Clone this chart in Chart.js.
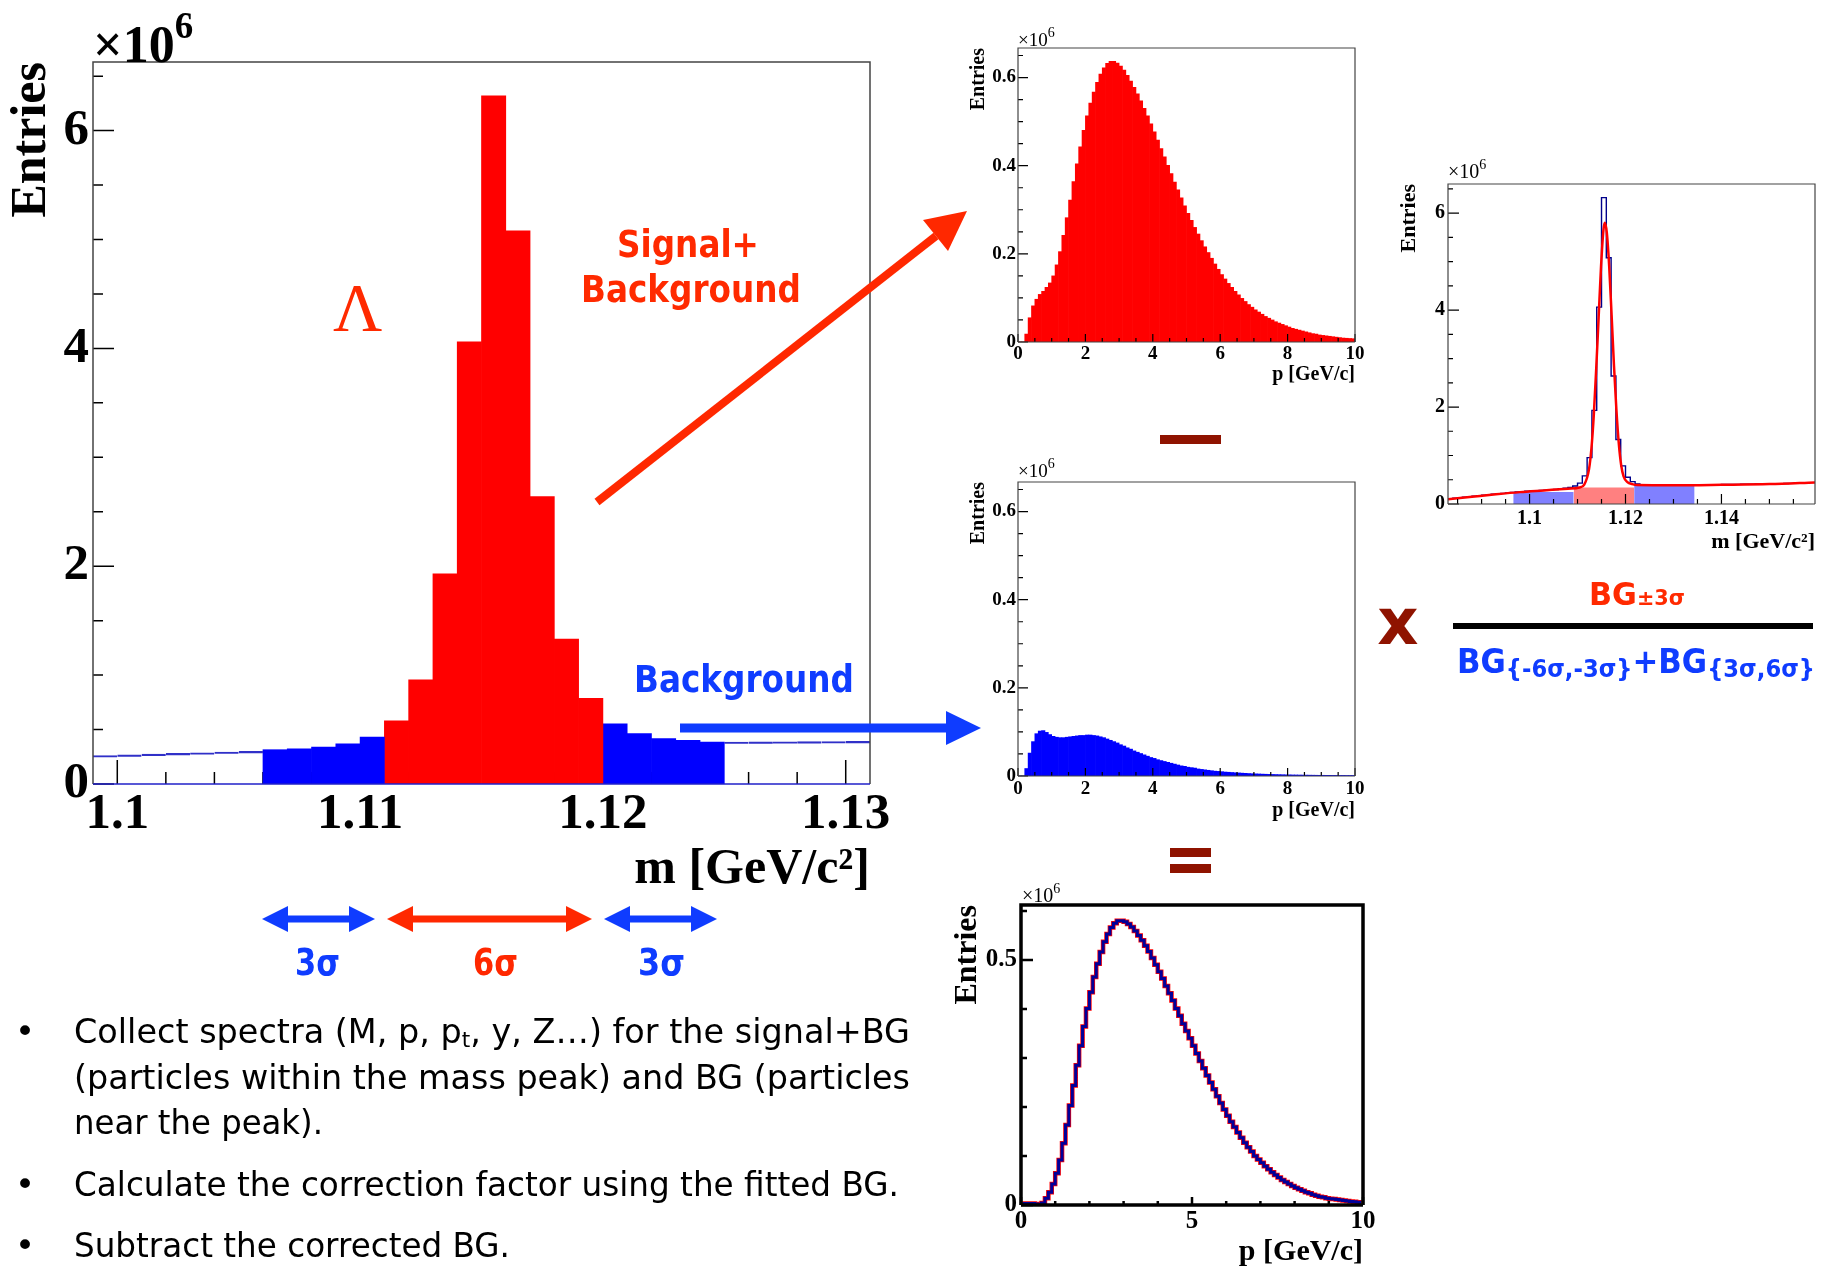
<!DOCTYPE html>
<html>
<head>
<meta charset="utf-8">
<script src="https://cdn.jsdelivr.net/npm/chart.js@4.4.1/dist/chart.umd.min.js"></script>
<style>
html, body { margin: 0; padding: 0; background: #fff; width: 1823px; height: 1270px; overflow: hidden; }
.box { position: absolute; }
#deco { position: absolute; left: 0; top: 0; pointer-events: none; }
</style>
</head>
<body>
<div class="box" style="left:0px;top:0px;width:930px;height:920px"><canvas id="massChart"></canvas></div>
<div class="box" style="left:965px;top:40px;width:410px;height:352px"><canvas id="sbChart"></canvas></div>
<div class="box" style="left:965px;top:474px;width:410px;height:354px"><canvas id="bgChart"></canvas></div>
<div class="box" style="left:1396px;top:176px;width:424px;height:384px"><canvas id="fitChart"></canvas></div>
<div class="box" style="left:949px;top:897px;width:441px;height:373px"><canvas id="resChart"></canvas></div>

<svg id="deco" width="1823" height="1270" xmlns="http://www.w3.org/2000/svg">
  <g font-family="'Liberation Serif', serif">
    <text x="93" y="62" font-size="52" font-weight="bold">×10<tspan font-size="37" dy="-24">6</tspan></text>
    <text x="1018" y="46" font-size="19">×10<tspan font-size="14" dy="-9">6</tspan></text>
    <text x="1018" y="477" font-size="19">×10<tspan font-size="14" dy="-9">6</tspan></text>
    <text x="1448" y="178" font-size="20">×10<tspan font-size="14" dy="-9">6</tspan></text>
    <text x="1022" y="902" font-size="20">×10<tspan font-size="14" dy="-9">6</tspan></text>
    <text x="333" y="330" font-size="68" fill="#ff2a00">Λ</text>
  </g>

  <g font-family="'DejaVu Sans', sans-serif" font-weight="bold">
    <text x="617" y="257" font-size="37" fill="#ff2a00" textLength="142" lengthAdjust="spacingAndGlyphs">Signal+</text>
    <text x="581" y="302" font-size="37" fill="#ff2a00" textLength="220" lengthAdjust="spacingAndGlyphs">Background</text>
    <text x="634" y="692" font-size="37" fill="#0f3cff" textLength="220" lengthAdjust="spacingAndGlyphs">Background</text>
    <text x="295" y="975" font-size="38" fill="#0f3cff" textLength="45" lengthAdjust="spacingAndGlyphs">3σ</text>
    <text x="473" y="975" font-size="38" fill="#ff2800" textLength="45" lengthAdjust="spacingAndGlyphs">6σ</text>
    <text x="638" y="975" font-size="38" fill="#0f3cff" textLength="47" lengthAdjust="spacingAndGlyphs">3σ</text>
    <text x="1398" y="644" font-size="64" fill="#8f1300" text-anchor="middle">x</text>
    <text x="1589" y="605" font-size="32" fill="#ff2a00" textLength="96" lengthAdjust="spacingAndGlyphs">BG<tspan font-size="22">±3σ</tspan></text>
    <text x="1457" y="673" font-size="34" fill="#0f3cff" textLength="358" lengthAdjust="spacingAndGlyphs">BG<tspan font-size="25" dy="4">{-6σ,-3σ}</tspan><tspan dy="-4">+BG</tspan><tspan font-size="25" dy="4">{3σ,6σ}</tspan></text>
  </g>

  <g font-family="'DejaVu Sans', sans-serif" font-size="34" fill="#000">
    <text x="15" y="1043">•</text>
    <text x="15" y="1196">•</text>
    <text x="15" y="1257">•</text>
    <text x="74" y="1043" textLength="836" lengthAdjust="spacingAndGlyphs">Collect spectra (M, p, p<tspan font-size="22" dy="4">t</tspan><tspan dy="-4">, y, Z…) for the signal+BG</tspan></text>
    <text x="74" y="1089" textLength="836" lengthAdjust="spacingAndGlyphs">(particles within the mass peak) and BG (particles</text>
    <text x="74" y="1134" textLength="249" lengthAdjust="spacingAndGlyphs">near the peak).</text>
    <text x="74" y="1196" textLength="825" lengthAdjust="spacingAndGlyphs">Calculate the correction factor using the fitted BG.</text>
    <text x="74" y="1257" textLength="436" lengthAdjust="spacingAndGlyphs">Subtract the corrected BG.</text>
  </g>

  <!-- arrows and operators -->
  <line x1="597" y1="502" x2="936" y2="236" stroke="#ff2800" stroke-width="8"/>
  <polygon points="967,211 948,251 923,220" fill="#ff2800"/>
  <rect x="680" y="723.5" width="268" height="9" fill="#0f3cff"/>
  <polygon points="981,728 946,711 946,745" fill="#0f3cff"/>

  <rect x="285" y="915.5" width="67" height="7" fill="#0f3cff"/>
  <polygon points="262,919 288,906 288,932" fill="#0f3cff"/>
  <polygon points="375,919 349,906 349,932" fill="#0f3cff"/>
  <rect x="410" y="915.5" width="159" height="7" fill="#ff2800"/>
  <polygon points="387,919 413,906 413,932" fill="#ff2800"/>
  <polygon points="592,919 566,906 566,932" fill="#ff2800"/>
  <rect x="627" y="915.5" width="67" height="7" fill="#0f3cff"/>
  <polygon points="604,919 630,906 630,932" fill="#0f3cff"/>
  <polygon points="717,919 691,906 691,932" fill="#0f3cff"/>

  <rect x="1160" y="435" width="61" height="9" fill="#8f1300"/>
  <rect x="1170" y="848" width="41" height="9" fill="#8f1300"/>
  <rect x="1170" y="864" width="41" height="9" fill="#8f1300"/>
  <rect x="1453" y="623" width="360" height="6" fill="#000"/>
</svg>

<script>
// Invariant mass histogram, 1 MeV bins, entries in units of 10^6
const MASS_BIN_START = 1.099;
const MASS_BIN_WIDTH = 0.001;
const massSideLeft = [0.262, 0.268, 0.274, 0.281, 0.287, 0.294, 0.30];   // 1.099 - 1.106
const massBgLeft = [0.315, 0.324, 0.34, 0.37, 0.43];                     // 1.106 - 1.111
const massSignal = [0.58, 0.957, 1.93, 4.06, 6.32, 5.08, 2.64, 1.33, 0.786]; // 1.111 - 1.120
const massBgRight = [0.553, 0.462, 0.416, 0.40, 0.385];                  // 1.120 - 1.125
const massSideRight = [0.386, 0.387, 0.388, 0.389, 0.39, 0.391];         // 1.125 - 1.131

// Extra mass bins only shown in the fit panel
const FIT_BIN_START = 1.083;
const fitSideLeft = [0.11, 0.12, 0.13, 0.14, 0.15, 0.16, 0.17, 0.18, 0.19, 0.2, 0.21, 0.22, 0.23, 0.24, 0.25, 0.255];
const fitSideRight = [0.392, 0.393, 0.394, 0.395, 0.396, 0.397, 0.398, 0.399, 0.4, 0.401, 0.402, 0.403, 0.405, 0.406,
  0.408, 0.41, 0.411, 0.413, 0.415, 0.417, 0.419, 0.421, 0.423, 0.426, 0.428, 0.431, 0.434, 0.437];

// Fitted function (peak + background)
const fitCurveMass = [1.083, 1.088, 1.093, 1.098, 1.103, 1.108, 1.1104, 1.1114, 1.1124, 1.1129, 1.1134, 1.1139, 1.1144,
  1.1149, 1.1154, 1.1157, 1.1161, 1.1166, 1.1171, 1.1176, 1.1181, 1.1186, 1.1191, 1.1196, 1.1204, 1.1214, 1.1225,
  1.13, 1.14, 1.15, 1.1595];
const fitCurveEntries = [0.10, 0.15, 0.20, 0.245, 0.28, 0.315, 0.34, 0.40, 0.72, 1.15, 1.85, 2.8, 3.85, 4.9, 5.65, 5.8,
  5.6, 4.9, 3.9, 2.85, 1.95, 1.25, 0.8, 0.57, 0.45, 0.41, 0.39, 0.385, 0.395, 0.41, 0.445];

// Fitted-background windows (-6s..-3s, -3s..+3s, +3s..+6s)
const windowEdges = [1.0966, 1.1092, 1.1218, 1.1344];
const windowLevels = [0.25, 0.34, 0.40];

// Momentum spectra, 0.1 GeV/c bins, entries in units of 10^6
const P_BIN_START = 0;
const P_BIN_WIDTH = 0.1;
const sbCounts = [
  0, 0, 0.018, 0.055, 0.082, 0.097, 0.108, 0.115, 0.124, 0.134,
  0.15, 0.175, 0.205, 0.242, 0.282, 0.322, 0.364, 0.404, 0.443, 0.48,
  0.513, 0.542, 0.567, 0.589, 0.608, 0.622, 0.632, 0.637, 0.637, 0.633,
  0.626, 0.617, 0.605, 0.592, 0.578, 0.563, 0.547, 0.53, 0.513, 0.495,
  0.477, 0.458, 0.439, 0.42, 0.401, 0.382, 0.363, 0.345, 0.327, 0.309,
  0.292, 0.276, 0.26, 0.245, 0.23, 0.216, 0.203, 0.19, 0.177, 0.165,
  0.153, 0.143, 0.133, 0.124, 0.115, 0.107, 0.099, 0.092, 0.085, 0.079,
  0.073, 0.068, 0.063, 0.058, 0.054, 0.05, 0.046, 0.043, 0.04, 0.037,
  0.034, 0.031, 0.029, 0.027, 0.025, 0.023, 0.021, 0.019, 0.018, 0.016,
  0.015, 0.014, 0.013, 0.012, 0.011, 0.01, 0.009, 0.0085, 0.008, 0.0075
];
const bgCounts = [
  0, 0, 0.017, 0.052, 0.078, 0.096, 0.102, 0.103, 0.099, 0.094,
  0.09, 0.088, 0.087, 0.087, 0.088, 0.089, 0.09, 0.091, 0.092, 0.092,
  0.093, 0.093, 0.092, 0.091, 0.089, 0.087, 0.084, 0.081, 0.078, 0.075,
  0.071, 0.068, 0.064, 0.061, 0.057, 0.054, 0.051, 0.048, 0.045, 0.042,
  0.04, 0.037, 0.035, 0.033, 0.031, 0.029, 0.027, 0.025, 0.023, 0.022,
  0.02, 0.019, 0.018, 0.016, 0.015, 0.014, 0.013, 0.012, 0.011, 0.0105,
  0.0098, 0.009, 0.0085, 0.008, 0.0074, 0.007, 0.0065, 0.006, 0.0056, 0.0052,
  0.0049, 0.0046, 0.0043, 0.004, 0.0037, 0.0035, 0.0033, 0.0031, 0.0029, 0.0027,
  0.0026, 0.0024, 0.0023, 0.0022, 0.0021, 0.002, 0.0019, 0.0018, 0.0017, 0.0016,
  0.0016, 0.0015, 0.0015, 0.0014, 0.0014, 0.0013, 0.0013, 0.0012, 0.0012, 0.0012
];
// Background-subtracted spectrum (red and dark blue lines overlap)
const signalCounts = [
  0.002, 0.003, 0.003, 0.003, 0.002, 0.001, 0.004, 0.014, 0.026, 0.043,
  0.065, 0.092, 0.126, 0.163, 0.203, 0.244, 0.285, 0.325, 0.364, 0.401,
  0.434, 0.465, 0.492, 0.516, 0.537, 0.553, 0.566, 0.575, 0.58, 0.58,
  0.578, 0.573, 0.567, 0.559, 0.55, 0.54, 0.529, 0.517, 0.504, 0.49,
  0.476, 0.462, 0.447, 0.432, 0.417, 0.401, 0.386, 0.37, 0.355, 0.34,
  0.325, 0.309, 0.294, 0.279, 0.264, 0.25, 0.236, 0.222, 0.208, 0.195,
  0.182, 0.17, 0.159, 0.148, 0.137, 0.127, 0.118, 0.109, 0.1, 0.093,
  0.086, 0.079, 0.073, 0.067, 0.061, 0.056, 0.051, 0.047, 0.043, 0.039,
  0.035, 0.032, 0.029, 0.026, 0.024, 0.021, 0.019, 0.017, 0.016, 0.014,
  0.013, 0.012, 0.011, 0.01, 0.009, 0.008, 0.0072, 0.0065, 0.0058, 0.0052
];

const SERIF = "'Liberation Serif', 'Times New Roman', serif";
const RED = '#ff0000';
const BLUE = '#0000ff';

Chart.defaults.animation = false;
Chart.defaults.color = '#000';

function binPoints(values, start, width) {
  return values.map((v, i) => ({ x: start + (i + 0.5) * width, y: v }));
}

// ROOT-like frame with inward ticks
function rootAxes(cfg) {
  function drawTicks(chart) {
    const { ctx, chartArea: a, scales: { x, y } } = chart;
    ctx.save();
    ctx.strokeStyle = '#000';
    ctx.lineWidth = cfg.tickWidth;
    ctx.beginPath();
    x.ticks.forEach(t => {
      const px = x.getPixelForValue(t.value);
      ctx.moveTo(px, a.bottom); ctx.lineTo(px, a.bottom - cfg.xMajor);
    });
    for (let k = Math.ceil(x.min / cfg.xMinorStep - 1e-6); k * cfg.xMinorStep <= x.max + 1e-9; k++) {
      const px = x.getPixelForValue(k * cfg.xMinorStep);
      ctx.moveTo(px, a.bottom); ctx.lineTo(px, a.bottom - cfg.xMinor);
    }
    y.ticks.forEach(t => {
      const py = y.getPixelForValue(t.value);
      ctx.moveTo(a.left, py); ctx.lineTo(a.left + cfg.yMajor, py);
    });
    for (let k = Math.ceil(y.min / cfg.yMinorStep - 1e-6); k * cfg.yMinorStep <= y.max + 1e-9; k++) {
      const py = y.getPixelForValue(k * cfg.yMinorStep);
      ctx.moveTo(a.left, py); ctx.lineTo(a.left + cfg.yMinor, py);
    }
    ctx.stroke();
    ctx.restore();
  }
  function drawFrame(chart) {
    const { ctx, chartArea: a } = chart;
    ctx.save();
    ctx.lineWidth = cfg.frameWidth;
    ctx.strokeStyle = cfg.frameColor;
    ctx.beginPath();
    ctx.moveTo(a.left, a.bottom); ctx.lineTo(a.left, a.top);
    ctx.lineTo(a.right, a.top); ctx.lineTo(a.right, a.bottom);
    ctx.stroke();
    ctx.strokeStyle = cfg.bottomColor || cfg.frameColor;
    ctx.beginPath();
    ctx.moveTo(a.left, a.bottom); ctx.lineTo(a.right, a.bottom);
    ctx.stroke();
    ctx.restore();
  }
  return {
    id: 'rootAxes',
    beforeDatasetsDraw(chart) { if (!cfg.ticksOnTop) drawTicks(chart); },
    afterDatasetsDraw(chart) { if (cfg.ticksOnTop) drawTicks(chart); drawFrame(chart); }
  };
}

function rootScales(o) {
  const fmt = v => String(+Number(v).toFixed(4));
  return {
    x: {
      type: 'linear', min: o.xMin, max: o.xMax, offset: false,
      grid: { display: false, drawTicks: false }, border: { display: false },
      ticks: {
        stepSize: o.xStep, autoSkip: false, maxRotation: 0, includeBounds: false,
        padding: o.xPad, callback: fmt,
        font: { family: SERIF, weight: 'bold', size: o.tickSize }
      },
      title: {
        display: true, text: o.xTitle, align: 'end',
        font: { family: SERIF, weight: 'bold', size: o.xTitleSize },
        padding: { top: 0, bottom: o.xTitlePad }
      },
      afterFit: s => { s.height = o.xh; s.paddingLeft = 0; s.paddingRight = 0; }
    },
    y: {
      type: 'linear', min: 0, max: o.yMax,
      grid: { display: false, drawTicks: false }, border: { display: false },
      ticks: {
        stepSize: o.yStep, autoSkip: false, includeBounds: false,
        padding: o.yPad, callback: fmt,
        font: { family: SERIF, weight: 'bold', size: o.yTickSize || o.tickSize }
      },
      title: {
        display: true, text: 'Entries', align: 'end',
        font: { family: SERIF, weight: 'bold', size: o.yTitleSize },
        padding: { top: o.yTitlePad, bottom: 0 }
      },
      afterFit: s => { s.width = o.yw; s.paddingTop = 0; s.paddingBottom = 0; }
    }
  };
}

function baseOptions(scales, pad) {
  return {
    responsive: true, maintainAspectRatio: false, animation: false,
    layout: { padding: pad },
    plugins: { legend: { display: false }, tooltip: { enabled: false } },
    scales: scales
  };
}

function histDataset(points, fill, extra) {
  return Object.assign({
    data: points, backgroundColor: fill, borderWidth: 0,
    barPercentage: 1, categoryPercentage: 1, grouped: false
  }, extra || {});
}

// ---- Main mass histogram ----
const outline = { borderColor: '#3030c8', borderWidth: { top: 1.5, left: 0, right: 0, bottom: 0 }, borderSkipped: false };
let idx = 0;
function nextBins(values) {
  const pts = binPoints(values, MASS_BIN_START + idx * MASS_BIN_WIDTH, MASS_BIN_WIDTH);
  idx += values.length;
  return pts;
}
const massDatasets = [
  histDataset(nextBins(massSideLeft), 'rgba(0,0,0,0)', outline),
  histDataset(nextBins(massBgLeft), BLUE),
  histDataset(nextBins(massSignal), RED),
  histDataset(nextBins(massBgRight), BLUE),
  histDataset(nextBins(massSideRight), 'rgba(0,0,0,0)', outline)
];

new Chart(document.getElementById('massChart'), {
  type: 'bar',
  data: { datasets: massDatasets },
  options: baseOptions(rootScales({
    xMin: 1.099, xMax: 1.131, xStep: 0.01, yMax: 6.63, yStep: 2,
    tickSize: 51, xPad: 0, yPad: 4, xh: 136, yw: 93,
    xTitle: 'm [GeV/c²]', xTitleSize: 50, xTitlePad: 20,
    yTitleSize: 50, yTitlePad: 2
  }), { top: 62, right: 60, left: 0, bottom: 0 }),
  plugins: [rootAxes({ xMajor: 24, xMinor: 12, xMinorStep: 0.002, yMajor: 21, yMinor: 10, yMinorStep: 0.5,
    tickWidth: 1.5, frameWidth: 1.5, frameColor: '#444', bottomColor: '#2020c8', ticksOnTop: false })]
});

// ---- Momentum spectra ----
function pScales(extra) {
  return rootScales(Object.assign({
    xMin: 0, xMax: 10, xStep: 2, yMax: 0.667, yStep: 0.2,
    tickSize: 19, yPad: 2, yw: 53,
    xTitle: 'p [GeV/c]', xTitleSize: 20,
    yTitleSize: 20, yTitlePad: 2
  }, extra));
}
const pTicks = { xMajor: 8, xMinor: 4, xMinorStep: 0.5, yMajor: 10, yMinor: 5, yMinorStep: 0.05,
  tickWidth: 1.2, frameWidth: 1.2, frameColor: '#444', ticksOnTop: true };

new Chart(document.getElementById('sbChart'), {
  type: 'bar',
  data: { datasets: [histDataset(binPoints(sbCounts, P_BIN_START, P_BIN_WIDTH), RED)] },
  options: baseOptions(pScales({ xPad: 1, xh: 50, xTitlePad: 5 }), { top: 8, right: 20, left: 0, bottom: 0 }),
  plugins: [rootAxes(pTicks)]
});

new Chart(document.getElementById('bgChart'), {
  type: 'bar',
  data: { datasets: [histDataset(binPoints(bgCounts, P_BIN_START, P_BIN_WIDTH), BLUE)] },
  options: baseOptions(pScales({ xPad: 2, xh: 52, xTitlePad: 5 }), { top: 8, right: 20, left: 0, bottom: 0 }),
  plugins: [rootAxes(pTicks)]
});

// ---- Mass fit panel ----
const fitOutline = binPoints(fitSideLeft, FIT_BIN_START, MASS_BIN_WIDTH)
  .concat(binPoints([].concat(massSideLeft, massBgLeft, massSignal, massBgRight, massSideRight), MASS_BIN_START, MASS_BIN_WIDTH))
  .concat(binPoints(fitSideRight, MASS_BIN_START + 32 * MASS_BIN_WIDTH, MASS_BIN_WIDTH));
const windowColors = ['#8080ff', '#ff8080', '#8080ff'];
const windowSets = windowLevels.map((lv, i) => ({
  data: [{ x: windowEdges[i], y: lv }, { x: windowEdges[i + 1], y: lv }],
  fill: 'origin', backgroundColor: windowColors[i], borderWidth: 0, pointRadius: 0, order: 3
}));

new Chart(document.getElementById('fitChart'), {
  type: 'line',
  data: {
    datasets: [
      { data: fitCurveMass.map((m, i) => ({ x: m, y: fitCurveEntries[i] })), borderColor: RED, borderWidth: 2.5,
        pointRadius: 0, fill: false, cubicInterpolationMode: 'monotone', order: 1 },
      { data: fitOutline, stepped: 'middle', borderColor: '#00008b', borderWidth: 1.4, pointRadius: 0, fill: false, order: 2 }
    ].concat(windowSets)
  },
  options: baseOptions(rootScales({
    xMin: 1.083, xMax: 1.1595, xStep: 0.02, yMax: 6.6, yStep: 2,
    tickSize: 20, xPad: 2.5, yPad: 3, xh: 56, yw: 52,
    xTitle: 'm [GeV/c²]', xTitleSize: 22, xTitlePad: 4,
    yTitleSize: 22, yTitlePad: 0
  }), { top: 8, right: 5, left: 0, bottom: 0 }),
  plugins: [rootAxes({ xMajor: 10, xMinor: 5, xMinorStep: 0.005, yMajor: 11, yMinor: 5, yMinorStep: 0.5,
    tickWidth: 1.2, frameWidth: 1.2, frameColor: '#444', ticksOnTop: true })]
});

// ---- Corrected spectrum ----
const signalPoints = binPoints(signalCounts, P_BIN_START, P_BIN_WIDTH);
new Chart(document.getElementById('resChart'), {
  type: 'line',
  data: {
    datasets: [
      { data: signalPoints, stepped: 'middle', borderColor: '#000099', borderWidth: 3, pointRadius: 0, fill: false, order: 1 },
      { data: signalPoints, stepped: 'middle', borderColor: RED, borderWidth: 4.5, pointRadius: 0, fill: false, order: 2 }
    ]
  },
  options: baseOptions(rootScales({
    xMin: 0, xMax: 10, xStep: 5, yMax: 0.612, yStep: 0.5,
    tickSize: 25, xPad: 1.5, yPad: 4, xh: 65, yw: 72,
    xTitle: 'p [GeV/c]', xTitleSize: 30, xTitlePad: 0,
    yTitleSize: 32, yTitlePad: 0
  }), { top: 8, right: 27, left: 0, bottom: 0 }),
  plugins: [rootAxes({ xMajor: 8, xMinor: 4, xMinorStep: 1, yMajor: 12, yMinor: 6, yMinorStep: 0.1,
    tickWidth: 2.5, frameWidth: 3.5, frameColor: '#000', ticksOnTop: true })]
});
</script>
</body>
</html>
